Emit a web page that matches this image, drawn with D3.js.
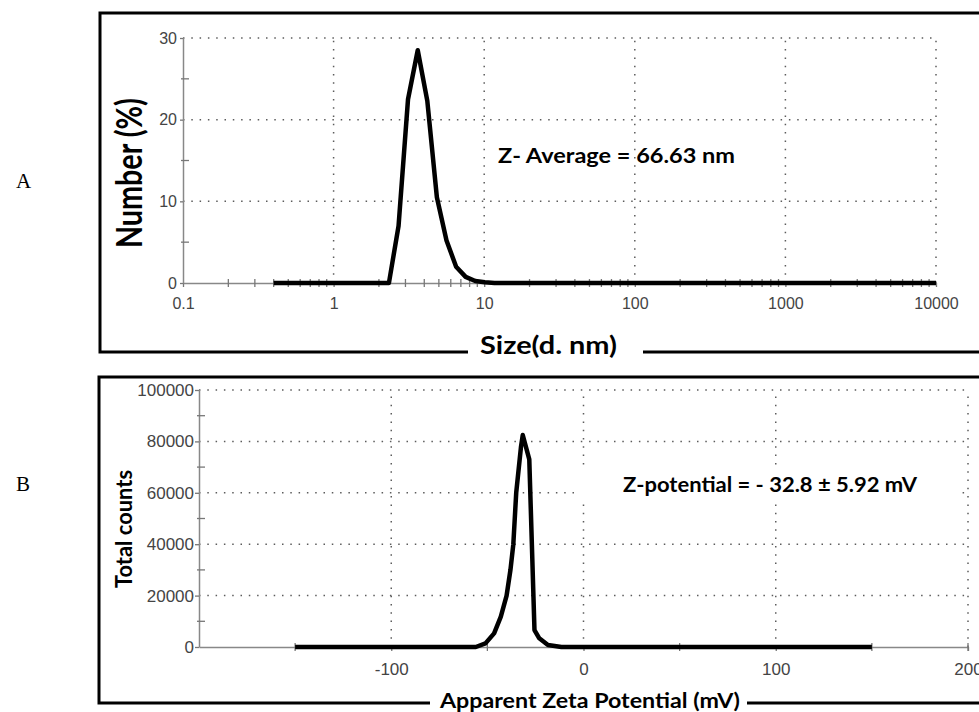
<!DOCTYPE html>
<html>
<head>
<meta charset="utf-8">
<script src="https://cdn.jsdelivr.net/npm/d3@7"></script>
<style>
  body { margin: 0; background: #fff; }
  svg { display: block; }
</style>
</head>
<body>
<svg id="chart" width="979" height="712"></svg>
<script>
// Panel A: size distribution by number
const sizeNm = [0.4, 2.33, 2.70, 3.12, 3.62, 4.19, 4.85, 5.62, 6.51, 7.53, 8.72, 10.1, 11.7, 10000];
const numberPct = [0, 0, 7, 22.5, 28.5, 22.3, 10.5, 5.2, 2.0, 0.75, 0.25, 0.08, 0, 0];
const sizeTicks = [0.1, 1, 10, 100, 1000, 10000];
const numberTicks = [0, 10, 20, 30];
const numberMinor = [5, 15, 25];

// Panel B: zeta potential distribution
const zetaMv = [-150, -56, -51, -46.5, -43, -40, -38, -36.5, -35, -32.5, -31.6, -28.2, -25.5, -23, -18.5, -11.5, 150];
const totalCounts = [0, 0, 1400, 5300, 11800, 20000, 30000, 40000, 60000, 78000, 82500, 73000, 6600, 3400, 800, 0, 0];
const zetaTicks = [-100, 0, 100, 200];
const zetaMinor = [-150, -50, 50, 150, 200];
const countTicks = [0, 20000, 40000, 60000, 80000, 100000];
const countMinor = [10000, 30000, 50000, 70000, 90000];

const svg = d3.select("#chart");
const boldFont = "Lato, 'Open Sans', sans-serif";
const tickFont = "'Liberation Sans', Arial, sans-serif";
const plain = d => String(d); // keep ASCII hyphen for negatives

function grid(g, x, y, xs, ys) {
    const [x0, x1] = x.range();
    const [y0, y1] = y.range();
    g.selectAll("line.gx").data(xs).enter().append("line")
        .attr("x1", d => x(d)).attr("x2", d => x(d))
        .attr("y1", y0).attr("y2", y1);
    g.selectAll("line.gy").data(ys).enter().append("line")
        .attr("x1", x0).attr("x2", x1)
        .attr("y1", d => y(d)).attr("y2", d => y(d));
    g.selectAll("line")
        .attr("stroke", "#5c5c5c")
        .attr("stroke-width", 1.5)
        .attr("stroke-dasharray", "1.5,6.8");
}

function styleAxis(g, size) {
    g.select(".domain").attr("stroke", "#888").attr("stroke-width", 1.5);
    g.selectAll(".tick line").attr("stroke", "#777").attr("stroke-width", 1.3);
    g.selectAll(".tick text")
        .attr("fill", "#444")
        .style("font-family", tickFont)
        .style("font-size", size + "px");
}

function minorTicks(g, pts, horizontal) {
    g.selectAll("line").data(pts).enter().append("line")
        .attr("stroke", "#777")
        .attr("stroke-width", 1.3)
        .each(function (d) {
            const s = d3.select(this);
            if (horizontal) s.attr("x1", d.p).attr("x2", d.p).attr("y1", d.a - 4).attr("y2", d.a + 4);
            else s.attr("y1", d.p).attr("y2", d.p).attr("x1", d.a - 2).attr("x2", d.a + 6);
        });
}

// ---------- Panel A ----------
const xA = d3.scaleLog().domain([0.1, 10000]).range([183, 936]);
const yA = d3.scaleLinear().domain([0, 30]).range([283, 38]);

grid(svg.append("g"), xA, yA, sizeTicks.slice(1), numberTicks.slice(1));

const axA = svg.append("g").attr("transform", `translate(0,${yA(0)})`)
    .call(d3.axisBottom(xA).tickValues(sizeTicks).tickFormat(plain)
        .tickSizeInner(4).tickSizeOuter(0).tickPadding(11));
styleAxis(axA, 16);
const ayA = svg.append("g").attr("transform", `translate(${xA(0.1)},0)`)
    .call(d3.axisLeft(yA).tickValues(numberTicks).tickFormat(plain)
        .tickSizeInner(3).tickSizeOuter(0).tickPadding(3));
styleAxis(ayA, 16);

const sizeMinor = sizeTicks.slice(0, -1).flatMap(d => d3.range(2, 10).map(k => d * k));
minorTicks(svg.append("g"), sizeMinor.map(d => ({ p: xA(d), a: yA(0) })), true);
minorTicks(svg.append("g"), numberMinor.map(d => ({ p: yA(d), a: xA(0.1) })), false);

svg.append("path")
    .datum(d3.zip(sizeNm, numberPct))
    .attr("fill", "none")
    .attr("stroke", "#000")
    .attr("stroke-width", 4.5)
    .attr("stroke-linejoin", "round")
    .attr("d", d3.line().x(d => xA(d[0])).y(d => yA(d[1])));

svg.append("path")
    .attr("fill", "none").attr("stroke", "#000").attr("stroke-width", 3)
    .attr("d", "M979,13H100V352H468M643,352H979");

svg.append("text")
    .attr("transform", "translate(141.5,173) rotate(-90)")
    .attr("text-anchor", "middle")
    .attr("textLength", 150).attr("lengthAdjust", "spacingAndGlyphs")
    .style("font-family", boldFont).style("font-weight", "bold").style("font-size", "36px")
    .text("Number (%)");

svg.append("text")
    .attr("x", 480).attr("y", 354)
    .attr("textLength", 137).attr("lengthAdjust", "spacingAndGlyphs")
    .style("font-family", boldFont).style("font-weight", "bold").style("font-size", "25px")
    .text("Size(d. nm)");

svg.append("text")
    .attr("x", 498).attr("y", 163)
    .attr("textLength", 237).attr("lengthAdjust", "spacingAndGlyphs")
    .style("font-family", boldFont).style("font-weight", "bold").style("font-size", "21px")
    .text("Z- Average = 66.63 nm");

// ---------- Panel B ----------
const xB = d3.scaleLinear().domain([-200, 200]).range([199, 968]);
const yB = d3.scaleLinear().domain([0, 100000]).range([647, 390]);

grid(svg.append("g"), xB, yB, zetaTicks, countTicks.slice(1));

const axB = svg.append("g").attr("transform", `translate(0,${yB(0)})`)
    .call(d3.axisBottom(xB).tickValues(zetaTicks).tickFormat(plain)
        .tickSizeInner(4).tickSizeOuter(0).tickPadding(12));
styleAxis(axB, 17);
const ayB = svg.append("g").attr("transform", `translate(${xB(-200)},0)`)
    .call(d3.axisLeft(yB).tickValues(countTicks).tickFormat(plain)
        .tickSizeInner(4).tickSizeOuter(0).tickPadding(1));
styleAxis(ayB, 17);

minorTicks(svg.append("g"), zetaMinor.map(d => ({ p: xB(d), a: yB(0) })), true);
minorTicks(svg.append("g"), countMinor.map(d => ({ p: yB(d), a: xB(-200) })), false);

svg.append("path")
    .datum(d3.zip(zetaMv, totalCounts))
    .attr("fill", "none")
    .attr("stroke", "#000")
    .attr("stroke-width", 4.5)
    .attr("stroke-linejoin", "round")
    .attr("d", d3.line().x(d => xB(d[0])).y(d => yB(d[1])));

svg.append("rect")
    .attr("x", 580).attr("y", 465).attr("width", 377).attr("height", 37)
    .attr("fill", "#fff");

svg.append("text")
    .attr("x", 623).attr("y", 492)
    .attr("textLength", 294).attr("lengthAdjust", "spacingAndGlyphs")
    .style("font-family", boldFont).style("font-weight", "bold").style("font-size", "21px")
    .text("Z-potential = - 32.8 ± 5.92 mV");

svg.append("path")
    .attr("fill", "none").attr("stroke", "#000").attr("stroke-width", 3)
    .attr("d", "M979,377H99V703H430M747,703H979");

svg.append("text")
    .attr("transform", "translate(132,529) rotate(-90)")
    .attr("text-anchor", "middle")
    .attr("textLength", 118).attr("lengthAdjust", "spacingAndGlyphs")
    .style("font-family", boldFont).style("font-weight", "bold").style("font-size", "23px")
    .text("Total counts");

svg.append("text")
    .attr("x", 440).attr("y", 708)
    .attr("textLength", 300).attr("lengthAdjust", "spacingAndGlyphs")
    .style("font-family", boldFont).style("font-weight", "bold").style("font-size", "21px")
    .text("Apparent Zeta Potential (mV)");

// panel letters
svg.selectAll("text.panel").data([["A", 188], ["B", 491]]).enter().append("text")
    .attr("class", "panel")
    .attr("x", 16).attr("y", d => d[1])
    .style("font-family", "'Liberation Serif', 'Times New Roman', serif")
    .style("font-size", "21px")
    .text(d => d[0]);
</script>
</body>
</html>
